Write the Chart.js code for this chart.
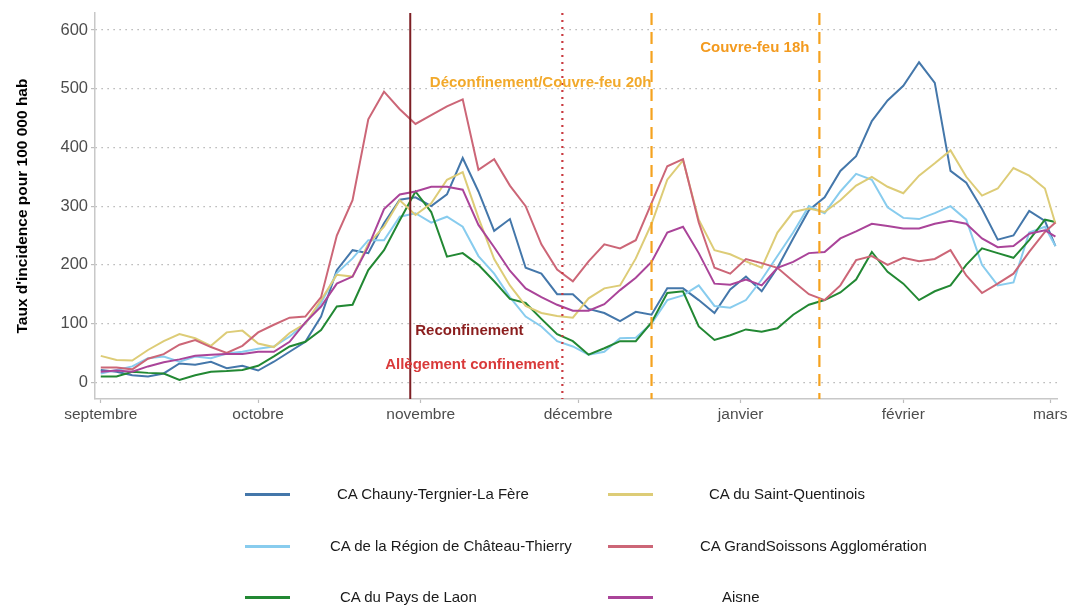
<!DOCTYPE html>
<html lang="fr">
<head>
<meta charset="utf-8">
<title>Taux d'incidence - Aisne</title>
<script src="https://cdn.jsdelivr.net/npm/chart.js@4.4.0/dist/chart.umd.min.js"></script>
<style>
    html, body { margin: 0; padding: 0; background: #fff; }
    #wrap { position: relative; width: 1071px; height: 605px; font-family: "Liberation Sans", Arial, sans-serif; }
    #legend .key { position: absolute; height: 3px; }
    #legend .lab { position: absolute; font-size: 15px; line-height: 18px; color: #1a1a1a; white-space: nowrap; }
</style>
</head>
<body>
<div id="wrap">
    <canvas id="incidenceChart"></canvas>
    <div id="legend"></div>
</div>
<script>
// jours depuis le 1er septembre
const days = [0, 3, 6, 9, 12, 15, 18, 21, 24, 27, 30, 33, 36, 39, 42, 45, 48, 51, 54, 57, 60,
    63, 66, 69, 72, 75, 78, 81, 84, 87, 90, 93, 96, 99, 102, 105, 108, 111, 114, 117, 120,
    123, 126, 129, 132, 135, 138, 141, 144, 147, 150, 153, 156, 159, 162, 165, 168, 171, 174, 177, 180, 182];

const chauny = [21, 18, 12, 10, 15, 32, 30, 35, 24, 28, 20, 35, 52, 69, 112, 191, 225, 220, 271, 311, 315,
    300, 320, 382, 325, 258, 278, 195, 185, 150, 150, 125, 118, 104, 120, 115, 160, 160, 140, 118, 158,
    180, 155, 195, 245, 293, 315, 360, 385, 445, 480, 505, 545, 510, 360, 340, 295, 243, 250, 292, 275, 232];
const chateauThierry = [15, 21, 27, 41, 44, 35, 44, 41, 49, 52, 57, 61, 78, 100, 135, 186, 211, 242, 242, 282, 288,
    272, 282, 265, 215, 185, 145, 112, 95, 70, 61, 47, 52, 75, 76, 100, 140, 148, 165, 130, 127,
    140, 175, 215, 255, 300, 288, 325, 355, 345, 298, 280, 278, 288, 300, 277, 200, 165, 170, 255, 265, 232];
const laon = [10, 10, 18, 16, 15, 4, 12, 18, 19, 21, 28, 44, 61, 69, 89, 129, 132, 191, 225, 276, 325,
    290, 214, 220, 200, 172, 142, 135, 108, 82, 70, 47, 58, 70, 70, 102, 152, 155, 95, 72, 80,
    90, 86, 92, 115, 132, 140, 153, 175, 222, 188, 168, 140, 155, 165, 200, 228, 220, 212, 242, 277, 273];
const saintQuentin = [45, 38, 37, 55, 70, 82, 75, 62, 85, 88, 66, 60, 84, 100, 140, 183, 180, 236, 265, 310, 285,
    305, 345, 358, 280, 210, 165, 130, 118, 113, 110, 143, 160, 165, 211, 270, 345, 378, 277, 225, 218,
    206, 195, 255, 290, 296, 290, 310, 335, 350, 333, 322, 352, 373, 395, 350, 318, 330, 365, 352, 330, 270];
const soissons = [25, 25, 22, 40, 48, 64, 72, 60, 50, 62, 85, 98, 110, 112, 145, 250, 310, 448, 495, 465, 440,
    455, 470, 482, 362, 380, 335, 300, 235, 192, 172, 206, 235, 228, 242, 305, 368, 380, 272, 195, 185,
    210, 203, 195, 172, 150, 140, 165, 208, 215, 200, 212, 206, 210, 225, 182, 152, 168, 185, 222, 256, 272];
const aisne = [18, 20, 18, 27, 34, 39, 45, 47, 48, 48, 52, 52, 69, 102, 129, 168, 180, 231, 295, 320, 325,
    333, 333, 328, 268, 230, 190, 160, 145, 132, 122, 122, 133, 157, 178, 205, 255, 265, 220, 168, 166,
    175, 165, 195, 205, 220, 222, 245, 257, 270, 266, 262, 262, 270, 275, 270, 245, 230, 232, 253, 259, 248];

const seriesNames = ['CA Chauny-Tergnier-La Fère', 'CA de la Région de Château-Thierry', 'CA du Pays de Laon',
    'CA du Saint-Quentinois', 'CA GrandSoissons Agglomération', 'Aisne'];
const seriesColors = ['#4477aa', '#88ccee', '#228833', '#ddcc77', '#cc6677', '#aa4499'];

const monthDays = [0, 30, 61, 91, 122, 153, 181];
const monthLabels = ['septembre', 'octobre', 'novembre', 'décembre', 'janvier', 'février', 'mars'];
const yTicks = [0, 100, 200, 300, 400, 500, 600];

// reconfinement, allègement, déconfinement/couvre-feu 20h, couvre-feu 18h
const eventDays = [59, 88, 105, 137];
const eventLabels = ['Reconfinement', 'Allègement confinement', 'Déconfinement/Couvre-feu 20h', 'Couvre-feu 18h'];

const allSeries = [chauny, chateauThierry, laon, saintQuentin, soissons, aisne];

const FONT = '"Liberation Sans", Arial, sans-serif';

// lignes verticales + textes des événements
const eventPlugin = {
    id: 'events',
    afterDatasetsDraw(chart) {
        const {ctx, chartArea, scales: {x, y}} = chart;
        const styles = [
            {color: '#7d1f24', dash: [], width: 2},
            {color: '#c93a40', dash: [2, 5], width: 2.2},
            {color: '#f5a21f', dash: [12, 7], width: 2.2},
            {color: '#f5a21f', dash: [12, 7], width: 2.2}
        ];
        ctx.save();
        eventDays.forEach(function(d, i) {
            const px = x.getPixelForValue(d);
            ctx.beginPath();
            ctx.strokeStyle = styles[i].color;
            ctx.lineWidth = styles[i].width;
            ctx.setLineDash(styles[i].dash);
            ctx.moveTo(px, chartArea.top);
            ctx.lineTo(px, chartArea.bottom);
            ctx.stroke();
        });
        ctx.setLineDash([]);

        // textes
        const texts = [
            {i: 0, v: 87, dx: 5, align: 'left', color: '#8b1e1e'},
            {i: 1, v: 29, dx: -3, align: 'right', color: '#d93a3a'},
            {i: 2, v: 510, dx: 0, align: 'right', color: '#f2a92b'},
            {i: 3, v: 570, dx: -10, align: 'right', color: '#f39a1e'}
        ];
        ctx.font = 'bold 15px ' + FONT;
        ctx.textBaseline = 'middle';
        texts.forEach(function(t) {
            ctx.fillStyle = t.color;
            ctx.textAlign = t.align;
            ctx.fillText(eventLabels[t.i], x.getPixelForValue(eventDays[t.i]) + t.dx, y.getPixelForValue(t.v));
        });
        ctx.restore();
    }
};

const ctx = document.getElementById('incidenceChart').getContext('2d');
const incidenceChart = new Chart(ctx, {
    type: 'line',
    data: {
        datasets: allSeries.map(function(s, i) {
            return {
                label: seriesNames[i],
                data: days.map(function(d, j) { return {x: d, y: s[j]}; }),
                borderColor: seriesColors[i],
                backgroundColor: seriesColors[i],
                borderWidth: 2,
                pointRadius: 0,
                tension: 0,
                fill: false,
                order: allSeries.length - i
            };
        })
    },
    options: {
        responsive: true,
        maintainAspectRatio: false,
        animation: false,
        layout: {
            padding: {top: 13, right: 14, bottom: 176, left: 0}
        },
        plugins: {
            legend: {display: false},
            tooltip: {enabled: false}
        },
        scales: {
            x: {
                type: 'linear',
                min: -1.1,
                max: 182.3,
                afterBuildTicks: function(scale) {
                    scale.ticks = monthDays.map(function(v) { return {value: v}; });
                },
                afterFit: function(scale) {
                    scale.height = 30;
                    scale.paddingLeft = 0;
                    scale.paddingRight = 0;
                },
                ticks: {
                    autoSkip: false,
                    maxRotation: 0,
                    padding: 2,
                    color: '#4d4d4d',
                    font: {family: FONT, size: 15.5},
                    callback: function(value) { return monthLabels[monthDays.indexOf(value)]; }
                },
                grid: {
                    drawOnChartArea: false,
                    drawTicks: true,
                    tickLength: 4,
                    tickColor: '#bdbdbd',
                    tickWidth: 1.2
                },
                border: {display: true, color: '#c8c8c8', width: 1.5}
            },
            y: {
                min: -28.5,
                max: 629,
                afterBuildTicks: function(scale) {
                    scale.ticks = yTicks.map(function(v) { return {value: v}; });
                },
                afterFit: function(scale) {
                    scale.width = 95;
                    scale.paddingTop = 0;
                    scale.paddingBottom = 0;
                },
                ticks: {
                    padding: 3,
                    color: '#4d4d4d',
                    font: {family: FONT, size: 16.5}
                },
                grid: {
                    color: '#a3a3a3',
                    lineWidth: 1.2,
                    drawTicks: true,
                    tickLength: 4,
                    tickColor: '#bdbdbd',
                    tickWidth: 1.2
                },
                border: {display: true, color: '#c8c8c8', width: 1.5, dash: [1.2, 4.8]},
                title: {
                    display: true,
                    text: "Taux d'incidence pour 100 000 hab",
                    color: '#000',
                    font: {family: FONT, size: 15.5, weight: 'bold'},
                    padding: {top: 13, bottom: 0}
                }
            }
        }
    },
    plugins: [eventPlugin]
});

// légende : 2 colonnes x 3 lignes
const legend = document.getElementById('legend');
const rowY = [494, 546, 597];
const keyX = [245, 608];
const labelX = [[337, 330, 340], [709, 700, 722]];
seriesNames.forEach(function(name, i) {
    const col = Math.floor(i / 3), row = i % 3;
    const key = document.createElement('div');
    key.className = 'key';
    key.style.left = keyX[col] + 'px';
    key.style.width = '45px';
    key.style.top = (rowY[row] - 1.5) + 'px';
    key.style.background = seriesColors[i];
    legend.appendChild(key);
    const lab = document.createElement('span');
    lab.className = 'lab';
    lab.textContent = name;
    lab.style.left = labelX[col][row] + 'px';
    lab.style.top = (rowY[row] - 9) + 'px';
    legend.appendChild(lab);
});
</script>
</body>
</html>
